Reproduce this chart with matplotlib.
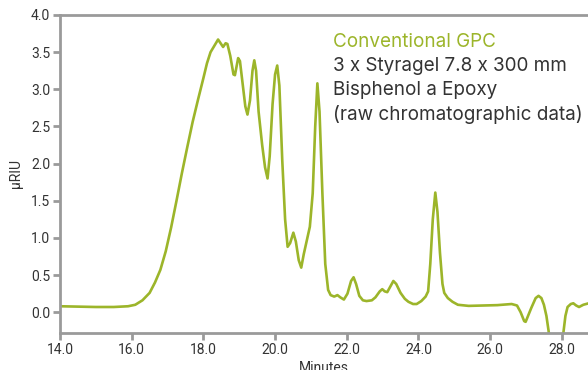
import matplotlib
matplotlib.use("Agg")
import matplotlib.pyplot as plt
from matplotlib.ticker import FormatStrFormatter

# retention time (minutes) and detector response (uRIU)
minutes = [
    14.0, 14.5, 15.0, 15.5, 15.9, 16.1, 16.3, 16.5, 16.65, 16.8, 16.95, 17.1,
    17.25, 17.4, 17.55, 17.7, 17.85, 18.0, 18.1, 18.2, 18.3, 18.41, 18.48,
    18.55, 18.62, 18.67, 18.75, 18.84, 18.88, 18.97, 19.02, 19.1, 19.17,
    19.23, 19.3, 19.37, 19.42, 19.47, 19.54, 19.64, 19.72, 19.79, 19.85,
    19.93, 20.0, 20.06, 20.12, 20.2, 20.28, 20.35, 20.42, 20.51, 20.58,
    20.66, 20.73, 20.8, 20.9, 20.97, 21.05, 21.12, 21.18, 21.24, 21.32,
    21.4, 21.48, 21.55, 21.65, 21.74, 21.82, 21.92, 22.02, 22.12, 22.19,
    22.26, 22.35, 22.45, 22.55, 22.7, 22.8, 22.92, 22.99, 23.06, 23.13,
    23.22, 23.3, 23.38, 23.5, 23.62, 23.72, 23.85, 23.95, 24.08, 24.2,
    24.27, 24.33, 24.4, 24.47, 24.53, 24.6, 24.67, 24.72, 24.82, 24.95,
    25.1, 25.4, 25.8, 26.2, 26.6, 26.75, 26.85, 26.95, 26.99, 27.05, 27.15,
    27.27, 27.35, 27.43, 27.5, 27.57, 27.63, 27.7, 27.85, 28.0, 28.05, 28.1,
    28.16, 28.25, 28.32, 28.4, 28.48, 28.6, 28.75,
]
riu = [
    0.08, 0.075, 0.07, 0.07, 0.08, 0.10, 0.16, 0.26, 0.40, 0.57, 0.82, 1.14,
    1.50, 1.87, 2.22, 2.56, 2.86, 3.15, 3.35, 3.50, 3.58, 3.67, 3.62,
    3.57, 3.62, 3.61, 3.45, 3.20, 3.19, 3.42, 3.38, 3.05, 2.77,
    2.66, 2.85, 3.25, 3.39, 3.25, 2.70, 2.25, 1.95, 1.80, 2.10,
    2.80, 3.20, 3.32, 3.05, 2.05, 1.25, 0.88, 0.93, 1.07, 0.95,
    0.70, 0.60, 0.78, 1.00, 1.15, 1.60, 2.50, 3.08, 2.70, 1.60,
    0.65, 0.30, 0.23, 0.21, 0.23, 0.20, 0.17, 0.25, 0.42, 0.47,
    0.38, 0.22, 0.16, 0.15, 0.16, 0.20, 0.28, 0.31, 0.28, 0.27,
    0.35, 0.42, 0.38, 0.26, 0.18, 0.14, 0.11, 0.11, 0.15, 0.21,
    0.28, 0.65, 1.25, 1.61, 1.35, 0.80, 0.38, 0.26, 0.19, 0.14,
    0.10, 0.085, 0.09, 0.095, 0.11, 0.09, 0.0, -0.12, -0.13, -0.06, 0.06,
    0.19, 0.22, 0.19, 0.10, -0.05, -0.25, -0.55, -0.75, -0.45, -0.25, -0.05,
    0.07, 0.11, 0.12, 0.09, 0.07, 0.10, 0.12,
]

x_ticks = [14.0, 16.0, 18.0, 20.0, 22.0, 24.0, 26.0, 28.0]
y_ticks = [0.0, 0.5, 1.0, 1.5, 2.0, 2.5, 3.0, 3.5, 4.0]

notes = [
    "Conventional GPC",
    "3 x Styragel 7.8 x 300 mm",
    "Bisphenol a Epoxy",
    "(raw chromatographic data)",
]

green = "#9cb52a"
spine_gray = "#9a9a9a"
text_dark = "#333333"

plt.rcParams["font.family"] = ["Roboto", "DejaVu Sans"]

fig = plt.figure(figsize=(5.88, 3.70), dpi=100)
ax = fig.add_axes([60 / 588, 37 / 370, 528 / 588, 318 / 370])

ax.plot(minutes, riu, color=green, linewidth=1.9, solid_joinstyle="round")

ax.set_xlim(14.0, 28.73)
ax.set_ylim(-0.28, 4.0)
ax.set_xticks(x_ticks)
ax.set_yticks(y_ticks)
ax.xaxis.set_major_formatter(FormatStrFormatter("%.1f"))
ax.yaxis.set_major_formatter(FormatStrFormatter("%.1f"))

for side in ["left", "bottom", "top"]:
    ax.spines[side].set_color(spine_gray)
    ax.spines[side].set_linewidth(2)
ax.spines["right"].set_visible(False)

ax.tick_params(axis="both", direction="out", length=5, width=2,
               color=spine_gray, labelcolor=text_dark, labelsize=10, pad=2)

ax.set_xlabel("Minutes", fontsize=10, color=text_dark, labelpad=3)
ax.set_ylabel("\u00b5RIU", fontsize=10, color=text_dark, labelpad=6)

# annotation block in the upper right
for i, line in enumerate(notes):
    fig.text(333 / 588, 1 - (46.7 + 24.4 * i) / 370, line,
             color=green if i == 0 else text_dark,
             family=["Inter", "DejaVu Sans"],
             fontsize=13.6, ha="left", va="baseline")

fig.savefig("out.png", dpi=100)
